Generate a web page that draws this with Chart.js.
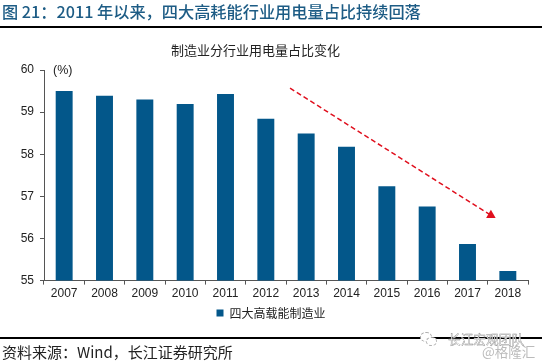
<!DOCTYPE html>
<html>
<head>
<meta charset="utf-8">
<script src="https://cdn.jsdelivr.net/npm/chart.js@4"></script>
<style>
  body { margin: 0; background: #fff; }
  #wrap { position: relative; width: 542px; height: 361px; overflow: hidden; }
  #wrap div { position: absolute; white-space: nowrap; }
  #head { left: 2px; top: 0; font: 500 16.2px/22px "Noto Sans CJK SC", sans-serif; color: #1d5c85; }
  .rule { left: 0; width: 542px; height: 2px; background: #000; }
  #chart-title { left: 171px; top: 41px; font: 13px/18px "Noto Sans CJK SC", sans-serif; color: #222; }
  #src { left: 2px; top: 342px; font: 15px/19px "Noto Sans CJK SC", sans-serif; color: #222; }
  #unit { left: 53px; top: 63px; font: 12.5px/14px "Liberation Sans", sans-serif; color: #222; }
  #mark1 { left: 448px; top: 331px; font: 12.7px/15px "Noto Sans CJK SC", sans-serif; color: #fff; -webkit-text-stroke: 0.4px #888; }
  #mark2 { left: 482px; top: 344px; font: 13.5px/15px "Noto Sans CJK SC", sans-serif; color: #bbb; }
  .bubble { border: 1px dashed #aaa; border-radius: 50%; background: #fff; }
  canvas { position: absolute; left: 0; top: 0; }
</style>
</head>
<body>
<div id="wrap">
  <canvas id="main-chart"></canvas>
  <div id="head">图 21：2011 年以来，四大高耗能行业用电量占比持续回落</div>
  <div class="rule" style="top:26px"></div>
  <div id="chart-title">制造业分行业用电量占比变化</div>
  <div id="unit">(%)</div>
  <div class="rule" style="top:337px"></div>
  <div id="src">资料来源：Wind，长江证券研究所</div>
  <div class="bubble" style="left:420px;top:332px;width:10px;height:8px"></div>
  <div class="bubble" style="left:426px;top:337px;width:9px;height:7px"></div>
  <div id="mark1">长江宏观团队</div>
  <div id="mark2">@格隆汇</div>
</div>
<script>
const years  = ['2007','2008','2009','2010','2011','2012','2013','2014','2015','2016','2017','2018'];
const shares = [59.5, 59.39, 59.3, 59.19, 59.43, 58.84, 58.49, 58.18, 57.24, 56.76, 55.87, 55.23];
const yTicks = [55, 56, 57, 58, 59, 60];

// trend arrow, x in category widths from the left of the plot
const trendX = [6.1, 11.08];
const trendY = [59.57, 56.55];

const axisColor = '#555';
const textColor = '#222';
const numFont = { family: 'Liberation Sans, sans-serif', size: 12 };

new Chart(document.getElementById('main-chart'), {
  data: {
    labels: years,
    datasets: [
      {
        type: 'line',
        label: 'trend',
        xAxisID: 'xTrend',
        data: trendX.map((x, i) => ({ x, y: trendY[i] })),
        borderColor: '#e0101e',
        borderWidth: 1.5,
        borderDash: [5, 3],
        pointStyle: 'triangle',
        pointRadius: [0, 5.5],
        pointBackgroundColor: '#e0101e',
        pointBorderWidth: 0,
        order: 0,
      },
      {
        type: 'bar',
        label: '四大高载能制造业',
        data: shares,
        backgroundColor: '#03578a',
        grouped: false,
        barPercentage: 0.42,
        categoryPercentage: 1,
        order: 1,
      },
    ],
  },
  options: {
    responsive: true, maintainAspectRatio: false,
    animation: false,
    layout: { padding: { top: 70, right: 14, bottom: 32, left: 14 } },
    plugins: {
      tooltip: { enabled: false },
      title: { display: false },
      legend: {
        position: 'bottom',
        labels: {
          filter: item => item.text !== 'trend',
          boxWidth: 7, boxHeight: 7,
          color: textColor,
          padding: 4,
          font: { family: 'Noto Sans CJK SC, sans-serif', size: 12 },
        },
      },
    },
    scales: {
      x: {
        grid: { drawOnChartArea: false, offset: true, color: axisColor, tickLength: 4 },
        border: { color: axisColor },
        ticks: { color: textColor, font: numFont, maxRotation: 0, padding: 2 },
      },
      xTrend: { type: 'linear', display: false, min: 0, max: 12 },
      y: {
        min: 55, max: 60,
        afterFit: s => { s.width = 30; },
        afterBuildTicks: s => { s.ticks = yTicks.map(value => ({ value })); },
        grid: { drawOnChartArea: false, color: axisColor, tickLength: 4 },
        border: { color: axisColor },
        ticks: { color: textColor, font: numFont, padding: 6 },
      },
    },
  },
});
</script>
</body>
</html>
